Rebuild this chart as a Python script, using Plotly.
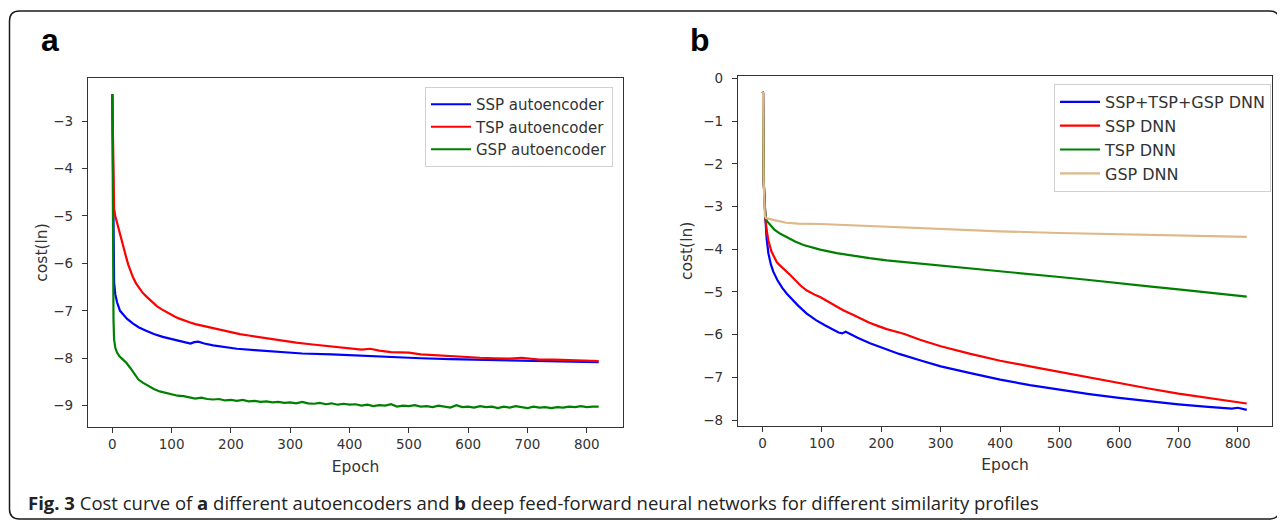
import plotly.graph_objects as go

# browser body has an 8px margin: figure is placed at (8, 8) in the 1285x521 window
OFF = 8
W, H = 1285 - OFF, 521 - OFF

# ---------------- Panel a: autoencoders ----------------
ssp_ae_epoch = [0, 1, 2, 3, 5, 8, 13, 18, 25, 35, 45, 57, 70, 85, 100, 115, 125, 132, 138, 145, 155, 170, 190, 210, 240,
                280, 320, 370, 420, 470, 520, 570, 620, 670, 720, 770, 820]
ssp_ae_cost = [-2.43, -4.2, -5.9, -6.4, -6.65, -6.82, -7.0, -7.08, -7.17, -7.27, -7.35, -7.42, -7.49, -7.55, -7.6, -7.64,
               -7.67, -7.69, -7.66, -7.65, -7.69, -7.73, -7.77, -7.8, -7.83, -7.87, -7.9, -7.92, -7.95, -7.97, -8.0,
               -8.02, -8.03, -8.05, -8.06, -8.07, -8.08]

tsp_ae_epoch = [0, 1, 2, 3, 5, 8, 12, 15, 18, 21, 24, 27, 30, 35, 40, 45, 50, 55, 60, 67, 75, 82, 90, 97, 105, 112, 120,
                130, 140, 150, 160, 170, 180, 190, 200, 215, 230, 245, 260, 275, 290, 310, 330, 350, 372, 395, 420,
                435, 450, 470, 500, 520, 545, 570, 595, 620, 645, 670, 690, 720, 745, 770, 795, 820]
tsp_ae_cost = [-2.43, -3.8, -4.6, -4.85, -5.0, -5.15, -5.35, -5.47, -5.6, -5.75, -5.9, -6.03, -6.15, -6.3, -6.42, -6.52,
               -6.6, -6.67, -6.73, -6.82, -6.9, -6.96, -7.02, -7.07, -7.12, -7.16, -7.2, -7.24, -7.28, -7.31, -7.34,
               -7.37, -7.4, -7.43, -7.45, -7.49, -7.52, -7.55, -7.58, -7.61, -7.63, -7.67, -7.7, -7.73, -7.76, -7.79,
               -7.82, -7.8, -7.84, -7.87, -7.88, -7.92, -7.94, -7.96, -7.98, -7.99, -8.0, -8.01, -7.99, -8.03, -8.03,
               -8.04, -8.05, -8.06]

gsp_ae_epoch = [0, 1, 2, 3, 5, 8, 12, 18, 24, 30, 37, 44, 52, 60, 70, 80, 90, 100, 110, 120, 130, 140, 150, 160, 170,
                180, 190, 200, 210, 220, 230, 240, 250, 260, 270, 280, 290, 300, 310, 320, 330, 340, 350, 360, 370,
                380, 390, 400, 410, 420, 430, 440, 450, 460, 470, 480, 490, 500, 510, 520, 530, 540, 550, 560, 570,
                580, 590, 600, 610, 620, 630, 640, 650, 660, 670, 680, 690, 700, 710, 720, 730, 740, 750, 760, 770,
                780, 790, 800, 810, 820]
gsp_ae_cost = [-2.43, -5.5, -7.2, -7.6, -7.78, -7.88, -7.96, -8.03, -8.1, -8.2, -8.33, -8.45, -8.52, -8.58, -8.65, -8.7,
               -8.73, -8.76, -8.79, -8.8, -8.83, -8.85, -8.83, -8.86, -8.87, -8.86, -8.89, -8.88, -8.9, -8.88, -8.91,
               -8.9, -8.92, -8.91, -8.93, -8.92, -8.94, -8.93, -8.95, -8.92, -8.95, -8.96, -8.94, -8.97, -8.95, -8.98,
               -8.96, -8.98, -8.97, -9.0, -8.98, -9.01, -8.99, -9.0, -8.97, -9.02, -9.0, -9.01, -8.99, -9.02, -9.01,
               -9.03, -9.0, -9.02, -9.04, -8.99, -9.03, -9.02, -9.04, -9.01, -9.03, -9.02, -9.05, -9.02, -9.04, -9.01,
               -9.03, -9.05, -9.02, -9.04, -9.03, -9.05, -9.03, -9.04, -9.02, -9.03, -9.01, -9.03, -9.02, -9.02]

# ---------------- Panel b: DNNs ----------------
all_dnn_epoch = [0, 1, 2, 4, 5, 7, 10, 14, 18, 25, 33, 41, 50, 60, 74, 90, 105, 118, 128, 134, 140, 146, 160, 181, 200,
                 230, 265, 300, 350, 400, 450, 500, 550, 600, 650, 700, 750, 790, 800, 815]
all_dnn_cost = [-0.32, -0.34, -2.4, -3.22, -3.3, -3.75, -4.1, -4.35, -4.52, -4.72, -4.9, -5.04, -5.18, -5.32, -5.5,
                -5.66, -5.78, -5.88, -5.95, -5.97, -5.93, -5.97, -6.07, -6.2, -6.3, -6.45, -6.6, -6.74, -6.9, -7.05,
                -7.18, -7.29, -7.39, -7.48, -7.56, -7.63, -7.69, -7.73, -7.71, -7.76]

ssp_dnn_epoch = [0, 1, 2, 4, 5, 7, 10, 15, 20, 24, 28, 33, 41, 48, 55, 64, 74, 82, 90, 97, 108, 120, 135, 153, 165, 180,
                 195, 209, 230, 240, 265, 300, 350, 400, 450, 500, 550, 600, 650, 700, 750, 790, 815]
ssp_dnn_cost = [-0.32, -0.34, -2.4, -3.22, -3.28, -3.55, -3.8, -4.05, -4.2, -4.3, -4.36, -4.42, -4.52, -4.62, -4.72,
                -4.85, -4.96, -5.03, -5.08, -5.12, -5.21, -5.3, -5.42, -5.54, -5.62, -5.72, -5.8, -5.87, -5.95, -5.99,
                -6.12, -6.27, -6.45, -6.61, -6.74, -6.87, -7.0, -7.14, -7.26, -7.38, -7.48, -7.56, -7.61]

tsp_dnn_epoch = [0, 1, 2, 4, 5, 8, 13, 20, 30, 41, 55, 69, 83, 97, 125, 153, 180, 209, 240, 265, 300, 350, 400, 450,
                 500, 550, 600, 650, 700, 750, 790, 815]
tsp_dnn_cost = [-0.32, -0.34, -2.4, -3.22, -3.26, -3.35, -3.44, -3.54, -3.64, -3.72, -3.82, -3.9, -3.96, -4.01, -4.09,
                -4.16, -4.21, -4.26, -4.3, -4.33, -4.38, -4.45, -4.51, -4.58, -4.65, -4.72, -4.8, -4.87, -4.94, -5.02,
                -5.08, -5.11]

gsp_dnn_epoch = [0, 1, 2, 4, 6, 10, 20, 40, 60, 97, 150, 209, 265, 300, 400, 500, 600, 700, 815]
gsp_dnn_cost = [-0.32, -0.34, -2.4, -3.22, -3.27, -3.28, -3.32, -3.38, -3.4, -3.41, -3.44, -3.47, -3.51, -3.53, -3.58,
                -3.62, -3.65, -3.68, -3.71]

epoch_ticks = [0, 100, 200, 300, 400, 500, 600, 700, 800]
cost_ticks_a = [-9, -8, -7, -6, -5, -4, -3]
cost_ticks_b = [-8, -7, -6, -5, -4, -3, -2, -1, 0]

BLUE, RED, GREEN, TAN = "#0000ff", "#ff0000", "#008000", "#deb887"
TICK_FONT = dict(family="DejaVu Sans", size=13.5, color="#333333")
TITLE_FONT = dict(family="DejaVu Sans", size=15.5, color="#333333")


def px(x):
    """window pixel x -> paper fraction"""
    return (x - OFF) / W


def py(y):
    """window pixel y -> paper fraction"""
    return 1 - (y - OFF) / H


fig = go.Figure()

series_a = [("SSP autoencoder", ssp_ae_epoch, ssp_ae_cost, BLUE),
            ("TSP autoencoder", tsp_ae_epoch, tsp_ae_cost, RED),
            ("GSP autoencoder", gsp_ae_epoch, gsp_ae_cost, GREEN)]
for i, (name, xs, ys, c) in enumerate(series_a):
    fig.add_trace(go.Scatter(x=xs, y=ys, mode="lines", name=name, line=dict(color=c, width=2.2),
                             xaxis="x", yaxis="y", legend="legend", legendgroup="a%d" % i, hoverinfo="skip"))

series_b = [("SSP+TSP+GSP DNN", all_dnn_epoch, all_dnn_cost, BLUE),
            ("SSP DNN", ssp_dnn_epoch, ssp_dnn_cost, RED),
            ("TSP DNN", tsp_dnn_epoch, tsp_dnn_cost, GREEN),
            ("GSP DNN", gsp_dnn_epoch, gsp_dnn_cost, TAN)]
for i, (name, xs, ys, c) in enumerate(series_b):
    fig.add_trace(go.Scatter(x=xs, y=ys, mode="lines", name=name, line=dict(color=c, width=2.2),
                             xaxis="x2", yaxis="y2", legend="legend2", legendgroup="b%d" % i, hoverinfo="skip"))

axis_common = dict(showgrid=False, zeroline=False, showline=True, mirror=True, linecolor="#333333", linewidth=1.2,
                   ticks="outside", ticklen=5, tickwidth=1, tickcolor="#333333", tickfont=TICK_FONT,
                   automargin=False)

legend_common = dict(bgcolor="white", bordercolor="#d0d0d0", borderwidth=1,
                     xanchor="right", yanchor="top", tracegroupgap=0, itemwidth=40)

fig.update_layout(
    width=W, height=H,
    margin=dict(l=0, r=0, t=0, b=0),
    paper_bgcolor="white", plot_bgcolor="white",
    xaxis=dict(axis_common, domain=[px(88), px(623)], range=[-41, 861], tickvals=epoch_ticks, ticklabelstandoff=0,
               title=dict(text="Epoch", font=TITLE_FONT, standoff=9), anchor="y"),
    yaxis=dict(axis_common, domain=[py(427), py(78)], range=[-9.45, -2.09], tickvals=cost_ticks_a,
               ticklabelstandoff=6, title=dict(text="cost(ln)", font=TITLE_FONT, standoff=1), anchor="x"),
    xaxis2=dict(axis_common, domain=[px(738), px(1272)], range=[-41.2, 857.5], tickvals=epoch_ticks,
                ticklabelstandoff=0, title=dict(text="Epoch", font=TITLE_FONT, standoff=9), anchor="y2"),
    yaxis2=dict(axis_common, domain=[py(425.7), py(76)], range=[-8.13, 0.054], tickvals=cost_ticks_b,
                ticklabelstandoff=6, title=dict(text="cost(ln)", font=TITLE_FONT, standoff=6), anchor="x2"),
    legend=dict(legend_common, x=px(613), y=py(87),
                font=dict(family="DejaVu Sans", size=15, color="#333333")),
    legend2=dict(legend_common, x=px(1271), y=py(84),
                 font=dict(family="DejaVu Sans", size=16, color="#333333")),
    showlegend=True,
)

# rounded outer frame
r = 10
x0, y0, x1, y1 = 9.5, 11, 1279.5, 519
path = (f"M {px(x0 + r)},{py(y0)} L {px(x1 - r)},{py(y0)} Q {px(x1)},{py(y0)} {px(x1)},{py(y0 + r)} "
        f"L {px(x1)},{py(y1 - r)} Q {px(x1)},{py(y1)} {px(x1 - r)},{py(y1)} "
        f"L {px(x0 + r)},{py(y1)} Q {px(x0)},{py(y1)} {px(x0)},{py(y1 - r)} "
        f"L {px(x0)},{py(y0 + r)} Q {px(x0)},{py(y0)} {px(x0 + r)},{py(y0)} Z")
fig.add_shape(type="path", path=path, xref="paper", yref="paper", line=dict(color="#1a1a1a", width=1.5),
              layer="below")

# panel letters
fig.add_annotation(text="<b>a</b>", x=px(50), y=py(40), xref="paper", yref="paper", showarrow=False,
                   font=dict(family="Liberation Sans", size=32, color="black"), xanchor="center", yanchor="middle")
fig.add_annotation(text="<b>b</b>", x=px(700), y=py(40), xref="paper", yref="paper", showarrow=False,
                   font=dict(family="Liberation Sans", size=32, color="black"), xanchor="center", yanchor="middle")

# caption
fig.add_annotation(
    text="<b>Fig. 3</b> Cost curve of <b>a</b> different autoencoders and <b>b</b> deep feed-forward neural "
         "networks for different similarity profiles",
    x=px(26), y=py(502), xref="paper", yref="paper", showarrow=False, xanchor="left", yanchor="middle",
    font=dict(family="Open Sans", size=18.5, color="#222222"))

fig.write_html("out.html")
